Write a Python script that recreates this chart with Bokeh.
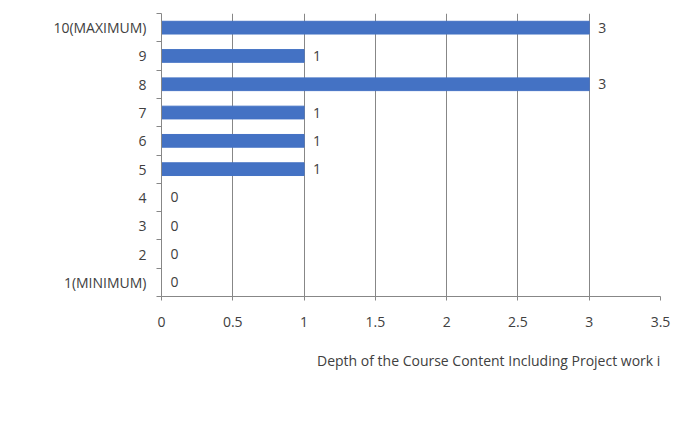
from bokeh.plotting import figure
from bokeh.layouts import column
from bokeh.models import ColumnDataSource, FixedTicker, Legend, LegendItem, LabelSet
from bokeh.core.properties import value
from bokeh.embed import file_html
from bokeh.resources import INLINE

categories = ["1(MINIMUM)", "2", "3", "4", "5", "6", "7", "8", "9", "10(MAXIMUM)"]
values = [0, 0, 0, 0, 1, 1, 1, 3, 1, 3]
x_ticks = [0, 0.5, 1, 1.5, 2, 2.5, 3, 3.5]
series_name = "Depth of the Course Content Including Project work if any"

FONT = "Open Sans"
FS = "14px"
TXT = "#404040"
GRID = "#878787"
BLUE = "#4472C4"

pos = list(range(1, len(categories) + 1))
src = ColumnDataSource(dict(y=pos, v=values, lab=[str(v) for v in values]))

p = figure(frame_width=499, frame_height=283, output_backend="svg", toolbar_location=None,
           x_range=(0, 3.5), y_range=(0.5, len(categories) + 0.5),
           min_border_left=161, min_border_right=15, min_border_top=13, min_border_bottom=44)
p.outline_line_color = None
p.background_fill_color = "white"
p.border_fill_color = "white"

bars = p.hbar(y="y", right="v", left=0, height=0.45, source=src,
              fill_color=BLUE, line_color=BLUE)

labels = LabelSet(x="v", y="y", text="lab", source=src, x_offset=9,
                  text_baseline="middle", text_font=value(FONT), text_font_size=value(FS),
                  text_color=TXT)
p.add_layout(labels)

# x axis
p.xaxis.ticker = FixedTicker(ticks=x_ticks)
p.xaxis.major_label_overrides = {0: "0", 1: "1", 2: "2", 3: "3"}
p.xaxis.axis_line_color = GRID
p.xaxis.major_tick_line_color = GRID
p.xaxis.major_tick_out = 4
p.xaxis.major_tick_in = 0
p.xaxis.minor_tick_line_color = None
p.xaxis.major_label_standoff = 16
p.xaxis.major_label_text_font = FONT
p.xaxis.major_label_text_font_size = FS
p.xaxis.major_label_text_color = TXT

# y axis
p.yaxis.ticker = FixedTicker(ticks=pos, minor_ticks=[i + 0.5 for i in range(0, len(categories) + 1)])
p.yaxis.major_label_overrides = {i: c for i, c in zip(pos, categories)}
p.yaxis.axis_line_color = GRID
p.yaxis.major_tick_line_color = None
p.yaxis.minor_tick_line_color = GRID
p.yaxis.minor_tick_out = 5
p.yaxis.minor_tick_in = 0
p.yaxis.major_label_standoff = 9
p.yaxis.major_label_text_font = FONT
p.yaxis.major_label_text_font_size = FS
p.yaxis.major_label_text_color = TXT

p.xgrid.grid_line_color = GRID
p.xgrid.grid_line_width = 1
p.ygrid.grid_line_color = None

# legend strip below the chart
p2 = figure(width=675, height=60, output_backend="svg", toolbar_location=None,
            x_range=(0, 1), y_range=(0, 1), x_axis_type=None, y_axis_type=None,
            min_border=0)
p2.outline_line_color = None
p2.grid.visible = False
swatch = p2.hbar(y=[], right=[], left=0, height=0.5, fill_color=BLUE, line_color=BLUE)
legend = Legend(items=[LegendItem(label=series_name, renderers=[swatch])],
                location=(146, 30), orientation="horizontal",
                glyph_width=7, glyph_height=7, label_standoff=3,
                padding=0, margin=0, spacing=0,
                border_line_color=None, background_fill_alpha=0,
                label_text_font=FONT, label_text_font_size=FS,
                label_text_color=TXT)
p2.add_layout(legend, "center")

layout = column(p, p2, spacing=0)

open("out.html", "w").write(file_html(layout, INLINE))
